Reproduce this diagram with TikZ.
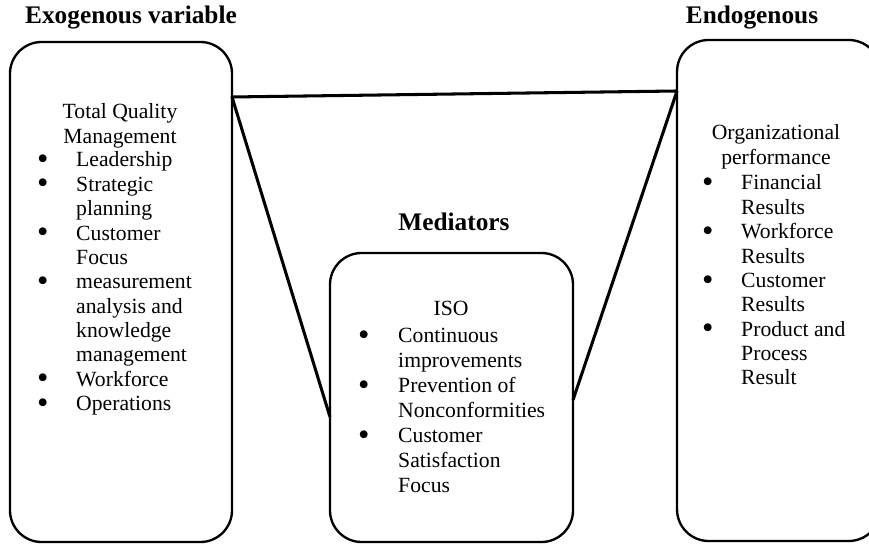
\documentclass[tikz,border=0pt]{standalone}
\usepackage{fontspec}
\setmainfont{Liberation Serif}
\usepackage{tikz}
\usetikzlibrary{calc}
\newcommand{\itemdot}{\raisebox{-0.12em}{\scalebox{1.5}{\textbullet}}}

\begin{document}
\begin{tikzpicture}[x=0.03cm, y=-0.03cm,
	box/.style={draw, line width=2pt, rounded corners=0.95cm, outer sep=0pt, inner sep=0pt},
	link/.style={line width=2.6pt, line join=round},
	title/.style={font=\fontsize{21.6}{26}\selectfont\bfseries, inner sep=0pt},
	body/.style={font=\fontsize{18.5}{20.8}\selectfont, inner sep=0pt}]
	\useasboundingbox (0, 0) rectangle (869, 544);
	\clip (0, 0) rectangle (869, 544);
	% Boxes, titles and links:
	\node[box, minimum width=6.66cm, minimum height=15cm] (L) at (121, 292){};
	\node[box, minimum width=7.29cm, minimum height=8.67cm] (M) at (451.5, 397.5){};
	\node[box, minimum width=6.1cm, minimum height=15.03cm] (R) at (778.7, 290.5){};
	\node[title, anchor=base] (exotitle) at (131, 24){Exogenous variable};
	\node[title, anchor=base] (medtitle) at (454, 231){Mediators};
	\node[title, anchor=base] (endotitle) at (752, 24){Endogenous};
	\coordinate (la) at ($(L.north east)+(0, 55)$);
	\coordinate (ra) at ($(R.north west)+(0, 51)$);
	\coordinate (ml) at ($(M.north west)+(0, 164)$);
	\coordinate (mr) at ($(M.north east)+(0, 147)$);
	\draw[link] (ra) -- (la) -- (ml);
	\draw[link] (mr) -- (ra);
	% Texts in the boxes:
	\node[body, anchor=base] (Lhead) at (120, 119){\begin{tabular}[t]{@{}c@{}}Total Quality\\ Management\end{tabular}};
	\node[body, anchor=base west] (Llist) at (37, 167){\begin{tabular}[t]{@{}p{1.17cm}@{}l@{}}
		\itemdot & Leadership\\
		\itemdot & Strategic\\
		 & planning\\
		\itemdot & Customer\\
		 & Focus\\
		\itemdot & measurement\\
		 & analysis and\\
		 & knowledge\\
		 & management\\
		\itemdot & Workforce\\
		\itemdot & Operations
	\end{tabular}};
	\node[body, anchor=base] (Mhead) at (451, 316){ISO};
	\node[body, font=\fontsize{18.5}{21.3}\selectfont, anchor=base west] (Mlist) at (358, 343){\begin{tabular}[t]{@{}p{1.2cm}@{}l@{}}
		\itemdot & Continuous\\
		 & improvements\\
		\itemdot & Prevention of\\
		 & Nonconformities\\
		\itemdot & Customer\\
		 & Satisfaction\\
		 & Focus
	\end{tabular}};
	\node[body, anchor=base] (Rhead) at (776, 140){\begin{tabular}[t]{@{}c@{}}Organizational\\ performance\end{tabular}};
	\node[body, anchor=base west] (Rlist) at (702, 190){\begin{tabular}[t]{@{}p{1.17cm}@{}l@{}}
		\itemdot & Financial\\
		 & Results\\
		\itemdot & Workforce\\
		 & Results\\
		\itemdot & Customer\\
		 & Results\\
		\itemdot & Product and\\
		 & Process\\
		 & Result
	\end{tabular}};
\end{tikzpicture}
\end{document}
